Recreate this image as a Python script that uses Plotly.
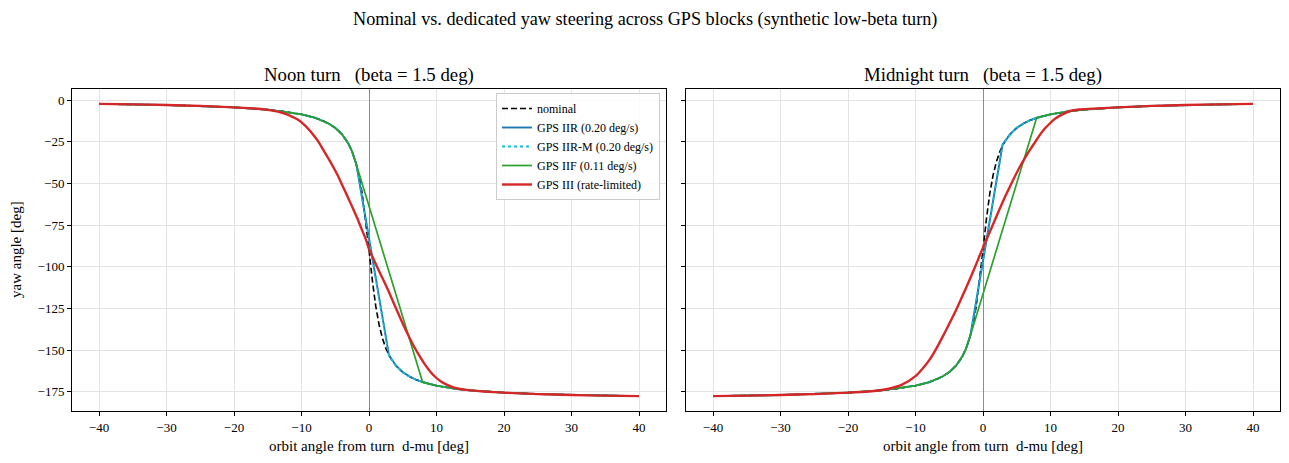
import plotly.graph_objects as go

# ---------------- data ----------------
mu = [-40, -35, -30, -25, -20, -17, -15, -13, -11, -10, -9, -8, -7, -6, -5, -4,
      -3.5, -3, -2.5, -2, -1.85, -1.5, -1, -0.5, 0, 0.5, 1, 1.5, 2, 2.5, 2.95, 3,
      3.5, 4, 5, 6, 7, 8, 9, 10, 11, 13, 15, 17, 20, 25, 30, 35, 40]

nominal_noon = [-2.3, -2.6, -3.0, -3.55, -4.4, -5.1, -5.8, -6.6, -7.8, -8.6, -9.5,
                -10.65, -12.1, -14.1, -16.7, -20.6, -23.2, -26.6, -31.0, -36.9,
                -39.0, -45.0, -56.3, -71.6, -90.0, -108.4, -123.7, -135.0, -143.1,
                -149.0, -153.0, -153.4, -156.8, -159.4, -163.3, -165.9, -167.9,
                -169.35, -170.5, -171.4, -172.2, -173.4, -174.2, -174.9, -175.6,
                -176.45, -177.0, -177.4, -177.7]

nominal_midnight = [-177.7, -177.4, -177.0, -176.45, -175.6, -174.9, -174.2, -173.4,
                    -172.2, -171.4, -170.5, -169.35, -167.9, -165.9, -163.3, -159.4,
                    -156.8, -153.4, -149.0, -143.1, -141.0, -135.0, -123.7, -108.4,
                    -90.0, -71.6, -56.3, -45.0, -36.9, -31.0, -27.0, -26.6, -23.2,
                    -20.6, -16.7, -14.1, -12.1, -10.65, -9.5, -8.6, -7.8, -6.6, -5.8,
                    -5.1, -4.4, -3.55, -3.0, -2.6, -2.3]

# GPS IIR / IIR-M (0.20 deg/s): follows nominal, constant-rate segment in the middle
iir_noon_x = [-40, -30, -20, -15, -10, -8, -6, -5, -4, -3, -2.5, -2, -1.85, 2.95,
              3.5, 4, 5, 6, 7, 8, 10, 13, 15, 20, 25, 30, 35, 40]
iir_noon_y = [-2.3, -3.0, -4.4, -5.8, -8.6, -10.65, -14.1, -16.7, -20.6, -26.6, -31.0,
              -36.9, -39.0, -153.0, -156.8, -159.4, -163.3, -165.9, -167.9, -169.35,
              -171.4, -173.4, -174.2, -175.6, -176.45, -177.0, -177.4, -177.7]
iir_mid_x = [-40, -30, -20, -15, -10, -8, -6, -5, -4, -3, -2.5, -2, -1.85, 2.9,
             3.5, 4, 5, 6, 7, 8, 10, 13, 15, 20, 25, 30, 35, 40]
iir_mid_y = [-177.7, -177.0, -175.6, -174.2, -171.4, -169.35, -165.9, -163.3, -159.4,
             -153.4, -149.0, -143.1, -141.0, -26.8, -23.2, -20.6, -16.7, -14.1, -12.1,
             -10.65, -8.6, -6.6, -5.8, -4.4, -3.55, -3.0, -2.6, -2.3]

# GPS IIF (0.11 deg/s)
iif_noon_x = [-40, -30, -20, -15, -10, -8, -6, -5, -4, -3, -2.5, -2, -1.85, 7.95,
              9, 10, 11, 13, 15, 20, 25, 30, 35, 40]
iif_noon_y = [-2.3, -3.0, -4.4, -5.8, -8.6, -10.65, -14.1, -16.7, -20.6, -26.6, -31.0,
              -36.9, -39.0, -169.3, -170.5, -171.4, -172.2, -173.4, -174.2, -175.6,
              -176.45, -177.0, -177.4, -177.7]
iif_mid_x = [-40, -30, -20, -15, -10, -8, -6, -5, -4, -3, -2.5, -2, -1.85, 7.95,
             9, 10, 11, 13, 15, 20, 25, 30, 35, 40]
iif_mid_y = [-177.7, -177.0, -175.6, -174.2, -171.4, -169.35, -165.9, -163.3, -159.4,
             -153.4, -149.0, -143.1, -141.0, -10.7, -9.5, -8.6, -7.8, -6.6, -5.8, -4.4,
             -3.55, -3.0, -2.6, -2.3]

# GPS III (rate-limited, smooth)
iii_noon_x = [-40, -35, -30, -25, -20, -17, -15.5, -14.5, -13.5, -12.5, -11.5, -10.5,
              -9.5, -8.5, -7.5, -6.8, -6, -5.3, -4.5, -3.84, -3, -2.36, -1.7, -1.12,
              -0.5, 0, 0.75, 1.5, 2.25, 3.0, 3.75, 4.5, 5.25, 6, 6.75, 7.5, 8.25, 9,
              9.75, 10.5, 11.5, 12.5, 13.5, 14.7, 17, 20, 25, 30, 35, 40]
iii_noon_y = [-2.3, -2.6, -3.0, -3.55, -4.4, -5.1, -5.6, -6.2, -7.0, -8.2, -9.8, -11.9,
              -15.2, -19.6, -25.0, -29.8, -35.2, -40.2, -46.3, -52.2, -59.5, -65.2,
              -71.3, -77.2, -83.3, -89.5, -96.2, -102.7, -109.1, -115.6, -122.7, -129.6,
              -136.4, -142.6, -148.5, -153.7, -158.5, -162.6, -165.9, -168.4, -170.8,
              -172.4, -173.4, -174.1, -174.9, -175.6, -176.45, -177.0, -177.4, -177.7]
iii_mid_x = [-40, -35, -30, -25, -20, -17, -15.5, -13.8, -12, -10, -9, -7.9, -7,
             -5.93, -5, -3.95, -3, -1.97, -1.2, -0.5, 0, 1.0, 1.75, 2.48, 3.2, 3.96,
             4.7, 5.44, 6.2, 6.93, 7.7, 8.4, 9.1, 9.9, 10.6, 11.4, 12.9, 14.2, 15.6,
             17, 20, 25, 30, 35, 40]
iii_mid_y = [-177.7, -177.4, -177.0, -176.45, -175.6, -174.9, -174.3, -173.1, -170.8,
             -165.7, -161.4, -155.8, -149.8, -141.7, -134.3, -125.7, -117.2, -107.7,
             -100.4, -93.4, -88.6, -79.2, -72.1, -65.2, -58.6, -52.2, -46.0, -40.2,
             -34.9, -30.1, -25.4, -21.1, -17.4, -14.1, -11.5, -9.4, -6.6, -5.7, -5.3,
             -5.1, -4.4, -3.55, -3.0, -2.6, -2.3]

x_ticks = [-40, -30, -20, -10, 0, 10, 20, 30, 40]
x_tick_text = ["\u221240", "\u221230", "\u221220", "\u221210", "0", "10", "20", "30", "40"]
y_ticks = [0, -25, -50, -75, -100, -125, -150, -175]
y_tick_text = ["0", "\u221225", "\u221250", "\u221275", "\u2212100", "\u2212125",
               "\u2212150", "\u2212175"]

panel_titles = ["Noon turn\u00a0\u00a0\u00a0(beta = 1.5 deg)",
                "Midnight turn\u00a0\u00a0\u00a0(beta = 1.5 deg)"]
suptitle = "Nominal vs. dedicated yaw steering across GPS blocks (synthetic low-beta turn)"
x_label = "orbit angle from turn\u00a0\u00a0d-mu [deg]"
y_label = "yaw angle [deg]"

names = ["nominal", "GPS IIR (0.20 deg/s)", "GPS IIR-M (0.20 deg/s)",
         "GPS IIF (0.11 deg/s)", "GPS III (rate-limited)"]

# ---------------- figure ----------------
FONT = "Liberation Serif"
C_BLUE, C_CYAN, C_GREEN, C_RED = "#1f77b4", "#17becf", "#2ca02c", "#d62728"

fig = go.Figure()

panels = [
    ("x", "y", nominal_noon, iir_noon_x, iir_noon_y, iif_noon_x, iif_noon_y,
     iii_noon_x, iii_noon_y, True),
    ("x2", "y2", nominal_midnight, iir_mid_x, iir_mid_y, iif_mid_x, iif_mid_y,
     iii_mid_x, iii_mid_y, False),
]
for xa, ya, nom, bx, by, gx, gy, rx, ry, show in panels:
    fig.add_trace(go.Scatter(x=mu, y=nom, mode="lines", name=names[0], showlegend=show,
                             line=dict(color="black", width=1.6, dash="6px,3px"),
                             xaxis=xa, yaxis=ya))
    fig.add_trace(go.Scatter(x=bx, y=by, mode="lines", name=names[1], showlegend=show,
                             line=dict(color=C_BLUE, width=1.9), xaxis=xa, yaxis=ya))
    fig.add_trace(go.Scatter(x=bx, y=by, mode="lines", name=names[2], showlegend=show,
                             line=dict(color=C_CYAN, width=1.9, dash="dot"),
                             xaxis=xa, yaxis=ya))
    fig.add_trace(go.Scatter(x=gx, y=gy, mode="lines", name=names[3], showlegend=show,
                             line=dict(color=C_GREEN, width=1.7), xaxis=xa, yaxis=ya))
    fig.add_trace(go.Scatter(x=rx, y=ry, mode="lines", name=names[4], showlegend=show,
                             line=dict(color=C_RED, width=2.4, shape="spline",
                                       smoothing=0.6),
                             xaxis=xa, yaxis=ya))

axis_common = dict(
    range=[-44, 44], tickvals=x_ticks, ticktext=x_tick_text,
    showline=True, linecolor="black", linewidth=1, mirror=True,
    ticks="outside", ticklen=4, tickcolor="black", tickwidth=0.8,
    showgrid=True, gridcolor="#e3e3e3", gridwidth=0.8,
    zeroline=True, zerolinecolor="#8c8c8c", zerolinewidth=1,
    tickfont=dict(family=FONT, size=13, color="black"),
)
yaxis_common = dict(
    range=[-186.6, 6.6], tickvals=y_ticks, ticktext=y_tick_text,
    showline=True, linecolor="black", linewidth=1, mirror=True,
    ticks="outside", ticklen=4, tickcolor="black", tickwidth=0.8,
    showgrid=True, gridcolor="#e3e3e3", gridwidth=0.8, zeroline=False,
    tickfont=dict(family=FONT, size=13, color="black"),
)

W, H = 1289, 463
xd1 = [72 / W, 666 / W]
xd2 = [686 / W, 1280 / W]
yd = [(H - 411) / H, (H - 89) / H]

fig.update_layout(
    width=W, height=H, margin=dict(l=0, r=0, t=0, b=0),
    paper_bgcolor="white", plot_bgcolor="white",
    font=dict(family=FONT, color="black"),
    xaxis=dict(domain=xd1, anchor="y", **axis_common),
    yaxis=dict(domain=yd, anchor="x", **yaxis_common),
    xaxis2=dict(domain=xd2, anchor="y2", **axis_common),
    yaxis2=dict(domain=yd, anchor="x2", matches="y", showticklabels=False,
                **yaxis_common),
    legend=dict(x=660 / W, y=(H - 93) / H, xanchor="right", yanchor="top",
                bgcolor="rgba(255,255,255,0.85)", bordercolor="#cccccc", borderwidth=1,
                font=dict(family=FONT, size=12, color="black"),
                itemwidth=30, tracegroupgap=0),
    showlegend=True,
)

annotations = [
    dict(text=suptitle, x=0.5, y=1 - 19 / H, xref="paper", yref="paper",
         showarrow=False, font=dict(family=FONT, size=18.2), xanchor="center",
         yanchor="middle"),
    dict(text=panel_titles[0], x=(xd1[0] + xd1[1]) / 2, y=1 - 75 / H, xref="paper",
         yref="paper", showarrow=False, font=dict(family=FONT, size=18.8),
         xanchor="center", yanchor="middle"),
    dict(text=panel_titles[1], x=(xd2[0] + xd2[1]) / 2, y=1 - 75 / H, xref="paper",
         yref="paper", showarrow=False, font=dict(family=FONT, size=18.8),
         xanchor="center", yanchor="middle"),
    dict(text=x_label, x=(xd1[0] + xd1[1]) / 2, y=1 - 446 / H, xref="paper",
         yref="paper", showarrow=False, font=dict(family=FONT, size=15),
         xanchor="center", yanchor="middle"),
    dict(text=x_label, x=(xd2[0] + xd2[1]) / 2, y=1 - 446 / H, xref="paper",
         yref="paper", showarrow=False, font=dict(family=FONT, size=15),
         xanchor="center", yanchor="middle"),
    dict(text=y_label, x=16 / W, y=(yd[0] + yd[1]) / 2, xref="paper", yref="paper",
         showarrow=False, font=dict(family=FONT, size=15), textangle=-90,
         xanchor="center", yanchor="middle"),
]
fig.update_layout(annotations=annotations)

fig.write_html("out.html")
